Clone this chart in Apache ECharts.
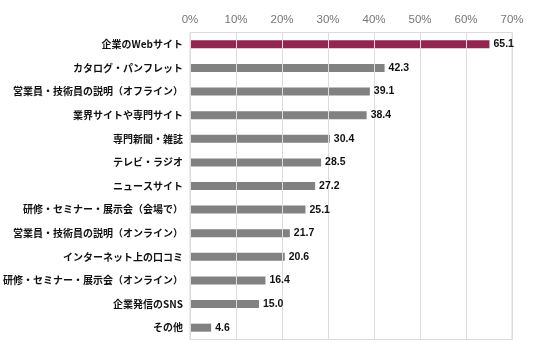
<!DOCTYPE html>
<html><head><meta charset="utf-8">
<script src="https://cdn.jsdelivr.net/npm/echarts@6/dist/echarts.min.js"></script>
<style>html,body{margin:0;padding:0;background:#fff}#c{width:554px;height:346px}</style>
</head><body><div id="c"></div>
<script>
const categories = ["企業のWebサイト","カタログ・パンフレット","営業員・技術員の説明（オフライン）","業界サイトや専門サイト","専門新聞・雑誌","テレビ・ラジオ","ニュースサイト","研修・セミナー・展示会（会場で）","営業員・技術員の説明（オンライン）","インターネット上の口コミ","研修・セミナー・展示会（オンライン）","企業発信のSNS","その他"];
const values = [65.1,42.3,39.1,38.4,30.4,28.5,27.2,25.1,21.7,20.6,16.4,15.0,4.6];
const xTicks = [0,10,20,30,40,50,60,70];
const highlightColor = "#932651";
const baseColor = "#818181";

const chart = echarts.init(document.getElementById('c'), null, {renderer:'canvas'});
chart.setOption({
  animation:false,
  grid:{left:175,right:42,top:32.5,bottom:6.5,show:true,borderColor:'#dcdcdc',borderWidth:1,z:5},
  xAxis:{type:'value',position:'top',min:xTicks[0],max:xTicks[xTicks.length-1],interval:10,z:5,
    axisLine:{show:false},axisTick:{show:false},
    splitLine:{show:true,lineStyle:{color:'#dcdcdc',width:1}},
    axisLabel:{formatter:'{value}%',color:'#777',fontSize:11.5,fontFamily:'Liberation Sans, Arial',margin:7}},
  yAxis:{type:'category',data:categories,inverse:true,
    axisLine:{show:false},axisTick:{show:false},splitLine:{show:false},
    axisLabel:{color:'#111',fontSize:10,fontWeight:'bold',fontFamily:'Noto Sans CJK JP',margin:7}},
  series:[
    {type:'bar',barWidth:8,z:2,
      data:values.map((v,i)=>({value:v,itemStyle:{color:i===0?highlightColor:baseColor}}))},
    {type:'bar',barWidth:8,barGap:'-100%',z:10,silent:true,
      itemStyle:{color:'rgba(0,0,0,0)'},
      data:values,
      label:{show:true,position:'right',distance:4,color:'#111',fontSize:10.5,fontWeight:'bold',fontFamily:'Liberation Sans, Arial',
        formatter:p=>p.value.toFixed(1)}}]
});
</script></body></html>
